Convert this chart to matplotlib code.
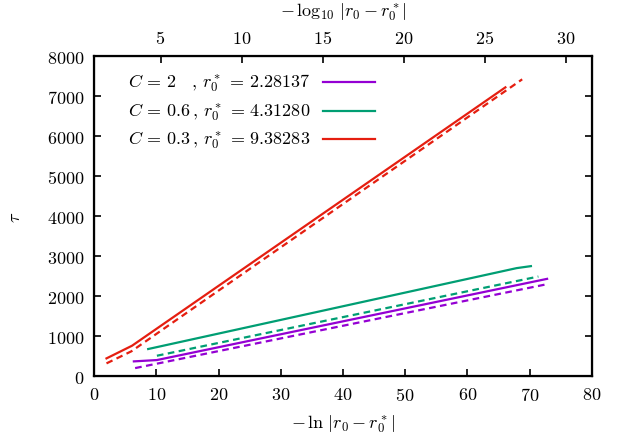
import numpy as np
import matplotlib
matplotlib.use('Agg')
import matplotlib.pyplot as plt

plt.rcParams['font.family'] = 'serif'
plt.rcParams['font.serif'] = ['cmr10']
plt.rcParams['mathtext.fontset'] = 'cm'
plt.rcParams['axes.formatter.use_mathtext'] = True
plt.rcParams['font.size'] = 13

# datos  (x = -ln|r0 - r0*|, tau)
x_c2 = [6.4, 10.1, 72.8]
t_c2 = [368, 401, 2431]
x_c2d = [6.6, 72.8]
t_c2d = [200, 2298]

x_c06 = [8.7, 67.9, 70.2]
t_c06 = [677, 2699, 2749]
x_c06d = [10.1, 71.4]
t_c06d = [509, 2489]

x_c03 = [2.0, 6.1, 66.1]
t_c03 = [443, 759, 7218]
x_c03d = [2.0, 6.0, 68.8]
t_c03d = [318, 620, 7419]

etiquetas = [r'$C\,=\,2\ \ \,\,,\,r_0^*\,=\,2.28137$',
             r'$C\,=\,0.6\,,\,r_0^*\,=\,4.31280$',
             r'$C\,=\,0.3\,,\,r_0^*\,=\,9.38283$']
colores = ['#9400D3', '#009E73', '#E51E10']

fig = plt.figure(figsize=(6.27, 4.39), dpi=100)
ax = fig.add_axes([0.150, 0.141, 0.794, 0.729])

lw = 1.6
dash = (0, (3, 2))
ax.plot(x_c2, t_c2, color=colores[0], lw=lw)
ax.plot(x_c06, t_c06, color=colores[1], lw=lw)
ax.plot(x_c03, t_c03, color=colores[2], lw=lw)
ax.plot(x_c2d, t_c2d, color=colores[0], lw=lw, ls=dash)
ax.plot(x_c06d, t_c06d, color=colores[1], lw=lw, ls=dash)
ax.plot(x_c03d, t_c03d, color=colores[2], lw=lw, ls=dash)

# leyenda al estilo gnuplot: texto a la izquierda, muestra de linea a la derecha
ys = [0.918, 0.829, 0.741]
for i in range(3):
    ax.text(0.068, ys[i], etiquetas[i], transform=ax.transAxes, va='center', ha='left')
    ax.plot([0.46, 0.564], [ys[i], ys[i]], color=colores[i], lw=lw, transform=ax.transAxes)

ax.set_xlim(0, 80)
ax.set_ylim(0, 8000)
ax.set_xticks(np.arange(0, 81, 10))
ax.set_yticks(np.arange(0, 8001, 1000))
ax.tick_params(direction='in', length=5, width=1.2, right=True, top=False, pad=7)
for s in ax.spines.values():
    s.set_linewidth(1.6)
ax.set_xlabel(r'$-\,\ln\,|r_0 - r_0^*|$', labelpad=7)
ax.set_ylabel(r'$\tau$', rotation=90, labelpad=17)

ax2 = ax.twiny()
ax2.set_xlim(0.9, 31.6)
ax2.set_xticks([5, 10, 15, 20, 25, 30])
ax2.tick_params(direction='in', length=5, width=1.2, pad=7)
ax2.set_xlabel(r'$-\,\log_{10}\,|r_0 - r_0^*|$', labelpad=10)

plt.savefig('out.png')
